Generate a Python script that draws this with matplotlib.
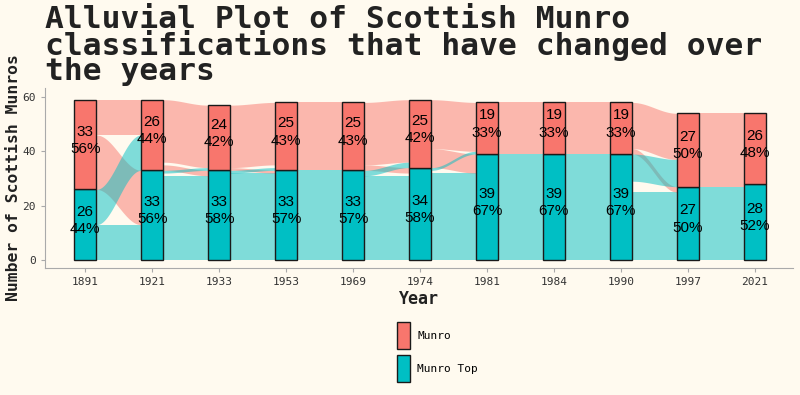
import numpy as np
import matplotlib.pyplot as plt
from matplotlib.patches import Patch

# classification counts per year
years = ['1891', '1921', '1933', '1953', '1969', '1974', '1981', '1984', '1990', '1997', '2021']
munro = [33, 26, 24, 25, 25, 25, 19, 19, 19, 27, 26]
munro_top = [26, 33, 33, 33, 33, 34, 39, 39, 39, 27, 28]

# transitions between consecutive years (estimated)
m_to_m = [13, 23, 23, 25, 23, 18, 19, 19, 17, 26]
m_to_t = [20, 2, 1, 0, 2, 7, 0, 0, 2, 1]
t_to_m = [13, 1, 1, 0, 2, 1, 0, 0, 10, 0]
t_to_t = [13, 31, 32, 33, 31, 32, 39, 39, 25, 27]

c_munro = '#F8766D'
c_top = '#00BFC4'
bg = '#fffaef'
w = 1 / 3

fig = plt.figure(figsize=(8, 3.95), dpi=100, facecolor=bg)
ax = fig.add_axes([0.05625, 0.3215, 0.935, 0.4557], facecolor=bg)


def flow(x0, x1, a, b, color):
    # a, b = (lo, hi) at origin / destination
    t = np.linspace(0, 1, 80)
    s = (1 - np.cos(np.pi * t)) / 2
    xs = x0 + (x1 - x0) * t
    lo = a[0] + (b[0] - a[0]) * s
    hi = a[1] + (b[1] - a[1]) * s
    ax.fill_between(xs, lo, hi, color=color, alpha=0.5, lw=0)


for i in range(len(years) - 1):
    M0, T0 = munro[i], munro_top[i]
    M1, T1 = munro[i + 1], munro_top[i + 1]
    x0, x1 = i + w / 2, i + 1 - w / 2

    # origin positions (top-down)
    om_top = T0 + M0
    o_mm = (om_top - m_to_m[i], om_top)
    o_mt = (T0, T0 + m_to_t[i])
    o_tm = (T0 - t_to_m[i], T0)
    o_tt = (0, t_to_t[i])
    # destination positions (top-down)
    dm_top = T1 + M1
    d_mm = (dm_top - m_to_m[i], dm_top)
    d_tm = (T1, T1 + t_to_m[i])
    d_mt = (T1 - m_to_t[i], T1)
    d_tt = (0, t_to_t[i])

    flow(x0, x1, o_tt, d_tt, c_top)
    flow(x0, x1, o_mm, d_mm, c_munro)
    if m_to_t[i]:
        flow(x0, x1, o_mt, d_mt, c_munro)
    if t_to_m[i]:
        flow(x0, x1, o_tm, d_tm, c_top)

x = np.arange(len(years))
ax.bar(x, munro_top, width=w, color=c_top, edgecolor='#1a1a1a', lw=1, zorder=3)
ax.bar(x, munro, width=w, bottom=munro_top, color=c_munro, edgecolor='#1a1a1a', lw=1, zorder=3)

for i in range(len(years)):
    tot = munro[i] + munro_top[i]
    pm = round(100 * munro[i] / tot)
    pt = 100 - pm
    ax.text(i, munro_top[i] + munro[i] / 2 + 1.6, f'{munro[i]}\n{pm}%', ha='center', va='center',
            fontsize=11, family='Liberation Sans', linespacing=1.3, zorder=4)
    ax.text(i, munro_top[i] / 2 + 1.6, f'{munro_top[i]}\n{pt}%', ha='center', va='center',
            fontsize=11, family='Liberation Sans', linespacing=1.3, zorder=4)

ax.set_xlim(-0.6, 10.57)
ax.set_ylim(-2.94, 63.3)
ax.set_xticks(x)
ax.set_xticklabels(years)
ax.set_yticks([0, 20, 40, 60])
for s in ['top', 'right']:
    ax.spines[s].set_visible(False)
for s in ['left', 'bottom']:
    ax.spines[s].set_color('#aaaaaa')
ax.tick_params(colors='#aaaaaa', labelcolor='#333333', length=3, labelsize=8)
for lab in ax.get_xticklabels() + ax.get_yticklabels():
    lab.set_family('DejaVu Sans Mono')

ax.set_xlabel('Year', family='DejaVu Sans Mono', fontweight='bold', fontsize=12, color='#222222', labelpad=2)
ax.set_ylabel('Number of Scottish Munros', family='DejaVu Sans Mono', fontweight='bold', fontsize=11.8,
              color='#222222', labelpad=1)

fig.text(45 / 800, 1 - 5 / 395, 'Alluvial Plot of Scottish Munro\nclassifications that have changed over\nthe years',
         ha='left', va='top', family='DejaVu Sans Mono', fontweight='bold', fontsize=22.5,
         color='#222222', linespacing=0.84)

handles = [Patch(facecolor=c_munro, edgecolor='#1a1a1a'), Patch(facecolor=c_top, edgecolor='#1a1a1a')]
leg = fig.legend(handles, ['Munro', 'Munro Top'], loc='upper left', bbox_to_anchor=(397 / 800, 1 - 322 / 395),
                 frameon=False, borderpad=0, borderaxespad=0, handlelength=1.17, handleheight=3.36,
                 labelspacing=0.55, handletextpad=0.63, prop={'family': 'DejaVu Sans Mono', 'size': 8})

fig.savefig('out.png', dpi=100, facecolor=bg)
